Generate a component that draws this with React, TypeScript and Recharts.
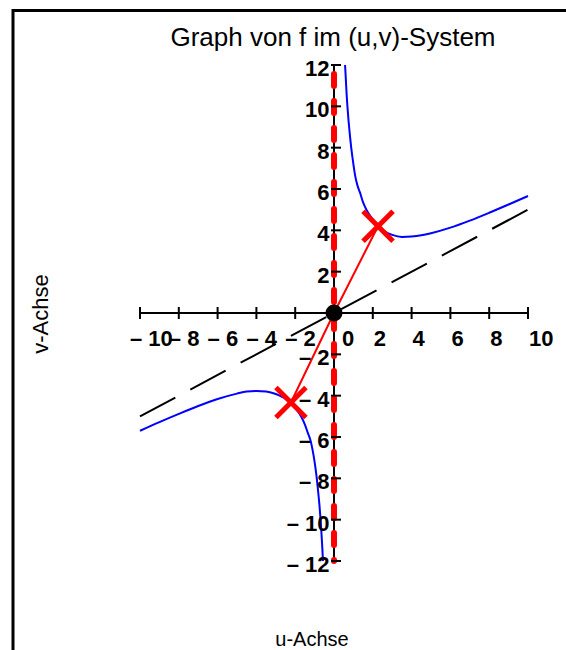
import { ComposedChart, Line, Scatter, XAxis, YAxis } from "recharts";

// x ticks on the u axis, y ticks on the v axis
const X_TICKS = [-10, -8, -6, -4, -2, 0, 2, 4, 6, 8, 10];
const Y_TICKS = [-12, -10, -8, -6, -4, -2, 2, 4, 6, 8, 10, 12];

// right branch of f (u > 0)
const RIGHT_U = [0.57, 0.6, 0.65, 0.7, 0.75, 0.8, 0.9, 1.0, 1.1, 1.2, 1.35, 1.5, 1.7, 1.9, 2.1, 2.3, 2.6, 3.0, 3.5, 4.0, 4.5, 5, 6, 7, 8, 9, 10];
const RIGHT_V = [12.0, 11.5, 10.6, 9.9, 9.3, 8.8, 7.9, 7.2, 6.6, 6.2, 5.8, 5.35, 4.95, 4.65, 4.4, 4.18, 3.95, 3.78, 3.68, 3.7, 3.76, 3.86, 4.13, 4.47, 4.85, 5.25, 5.66];

// left branch of f (u < 0)
const LEFT_U = [-10, -9, -8, -7, -6, -5, -4.5, -4, -3.5, -3, -2.6, -2.2, -1.9, -1.7, -1.5, -1.35, -1.2, -1.1, -1.0, -0.9, -0.8, -0.75, -0.7, -0.65, -0.6, -0.57];
const LEFT_V = [-5.7, -5.28, -4.88, -4.5, -4.16, -3.9, -3.8, -3.77, -3.8, -3.92, -4.1, -4.35, -4.7, -5.0, -5.4, -5.8, -6.2, -6.65, -7.2, -7.9, -8.8, -9.3, -9.9, -10.6, -11.4, -12.0];

// asymptote v = u/2 (end points)
const ASYM_U = [-10, 10];
const ASYM_V = [-5, 5];

// marked points and the line through them
const MARK_U = [-2.22, 2.27];
const MARK_V = [-4.33, 4.2];
const CHORD_U = [-2.22, 0, 2.27];
const CHORD_V = [-4.33, 0, 4.2];

const zip = (us: number[], vs: number[]) => us.map((u, i) => ({ u, v: vs[i] }));

const rightBranch = zip(RIGHT_U, RIGHT_V);
const leftBranch = zip(LEFT_U, LEFT_V);
const asymptote = zip(ASYM_U, ASYM_V);
const marks = zip(MARK_U, MARK_V);
const chord = zip(CHORD_U, CHORD_V);
const uAxis = [{ u: -10, v: 0 }, { u: 10, v: 0 }];
const vAxis = [{ u: 0, v: 12 }, { u: 0, v: -12 }];
const poleLine = [{ u: 0, v: 12 }, { u: 0, v: -12 }];
const origin = [{ u: 0, v: 0 }];
const xTickData = X_TICKS.map((t) => ({ u: t, v: 0 }));
const yTickData = Y_TICKS.map((t) => ({ u: 0, v: t }));

const FONT = "'Liberation Sans', Arial, sans-serif";
const DASH = "\u2013";

function XTick(props: any) {
  const { cx, cy, payload } = props;
  const t = payload.u;
  let x = cx + 1;
  let label = String(t);
  if (t < 0) {
    x = cx - 10;
    label = `${DASH} ${Math.abs(t)}`;
  } else if (t === 0) {
    x = cx + 8;
  }
  return (
    <g>
      <line x1={cx} y1={cy - 6} x2={cx} y2={cy + 6} stroke="#000" strokeWidth={2} />
      <text x={x} y={cy + 32.5} fontFamily={FONT} fontWeight="bold" fontSize={22} fill="#000">
        {label}
      </text>
    </g>
  );
}

function YTick(props: any) {
  const { cx, cy, payload } = props;
  const t = payload.v;
  const label = t < 0 ? `${DASH} ${Math.abs(t)}` : String(t);
  return (
    <g>
      <line x1={cx - 3} y1={cy} x2={cx + 7} y2={cy} stroke="#000" strokeWidth={2} />
      <text x={cx - 4.5} y={cy + 11} textAnchor="end" fontFamily={FONT} fontWeight="bold" fontSize={22} fill="#000">
        {label}
      </text>
    </g>
  );
}

function Cross(props: any) {
  const { cx, cy } = props;
  const s = 15;
  return (
    <g stroke="#ff0000" strokeWidth={5}>
      <line x1={cx - s} y1={cy - s} x2={cx + s} y2={cy + s} />
      <line x1={cx - s} y1={cy + s} x2={cx + s} y2={cy - s} />
    </g>
  );
}

function Dot(props: any) {
  const { cx, cy } = props;
  return <circle cx={cx} cy={cy} r={8.5} fill="#000" />;
}

export default function App() {
  return (
    <div style={{ position: "fixed", left: 0, top: 0, width: 566, height: 650, overflow: "hidden", background: "#fff" }}>
      <ComposedChart width={566} height={650} margin={{ top: 65, right: 38, bottom: 89, left: 140 }}>
        <XAxis type="number" dataKey="u" domain={[-10, 10]} hide />
        <YAxis type="number" dataKey="v" domain={[-12, 12]} hide />

        <Line data={uAxis} dataKey="v" stroke="#000" strokeWidth={2} dot={false} activeDot={false} isAnimationActive={false} />
        <Line data={vAxis} dataKey="v" stroke="#000" strokeWidth={2} dot={false} activeDot={false} isAnimationActive={false} />
        <Scatter data={xTickData} shape={XTick} isAnimationActive={false} />
        <Scatter data={yTickData} shape={YTick} isAnimationActive={false} />

        <Line
          data={asymptote}
          dataKey="v"
          stroke="#000"
          strokeWidth={2}
          strokeDasharray="40 17"
          dot={false}
          activeDot={false}
          isAnimationActive={false}
        />
        <Line data={leftBranch} type="monotone" dataKey="v" stroke="#0000ff" strokeWidth={2} dot={false} activeDot={false} isAnimationActive={false} />
        <Line data={rightBranch} type="monotone" dataKey="v" stroke="#0000ff" strokeWidth={2} dot={false} activeDot={false} isAnimationActive={false} />
        <Line
          data={poleLine}
          dataKey="v"
          stroke="#ff0000"
          strokeWidth={6}
          strokeDasharray="12 15"
          strokeDashoffset={18}
          strokeLinecap="round"
          dot={false}
          activeDot={false}
          isAnimationActive={false}
        />
        <Scatter data={origin} shape={Dot} isAnimationActive={false} />
        <Line data={chord} dataKey="v" stroke="#ff0000" strokeWidth={2} dot={false} activeDot={false} isAnimationActive={false} />
        <Scatter data={marks} shape={Cross} isAnimationActive={false} />
      </ComposedChart>

      <svg width={566} height={650} style={{ position: "absolute", left: 0, top: 0, pointerEvents: "none" }}>
        <rect x={13} y={10.5} width={700} height={700} fill="none" stroke="#000" strokeWidth={3} />
        <text x={333} y={46} textAnchor="middle" fontFamily={FONT} fontSize={26} fill="#000">
          Graph von f im (u,v)-System
        </text>
        <text x={312} y={646} textAnchor="middle" fontFamily={FONT} fontSize={20} fill="#000">
          u-Achse
        </text>
        <text x={48} y={314} textAnchor="middle" fontFamily={FONT} fontSize={22} fill="#000" transform="rotate(-90 48 314)">
          v-Achse
        </text>
      </svg>
    </div>
  );
}
